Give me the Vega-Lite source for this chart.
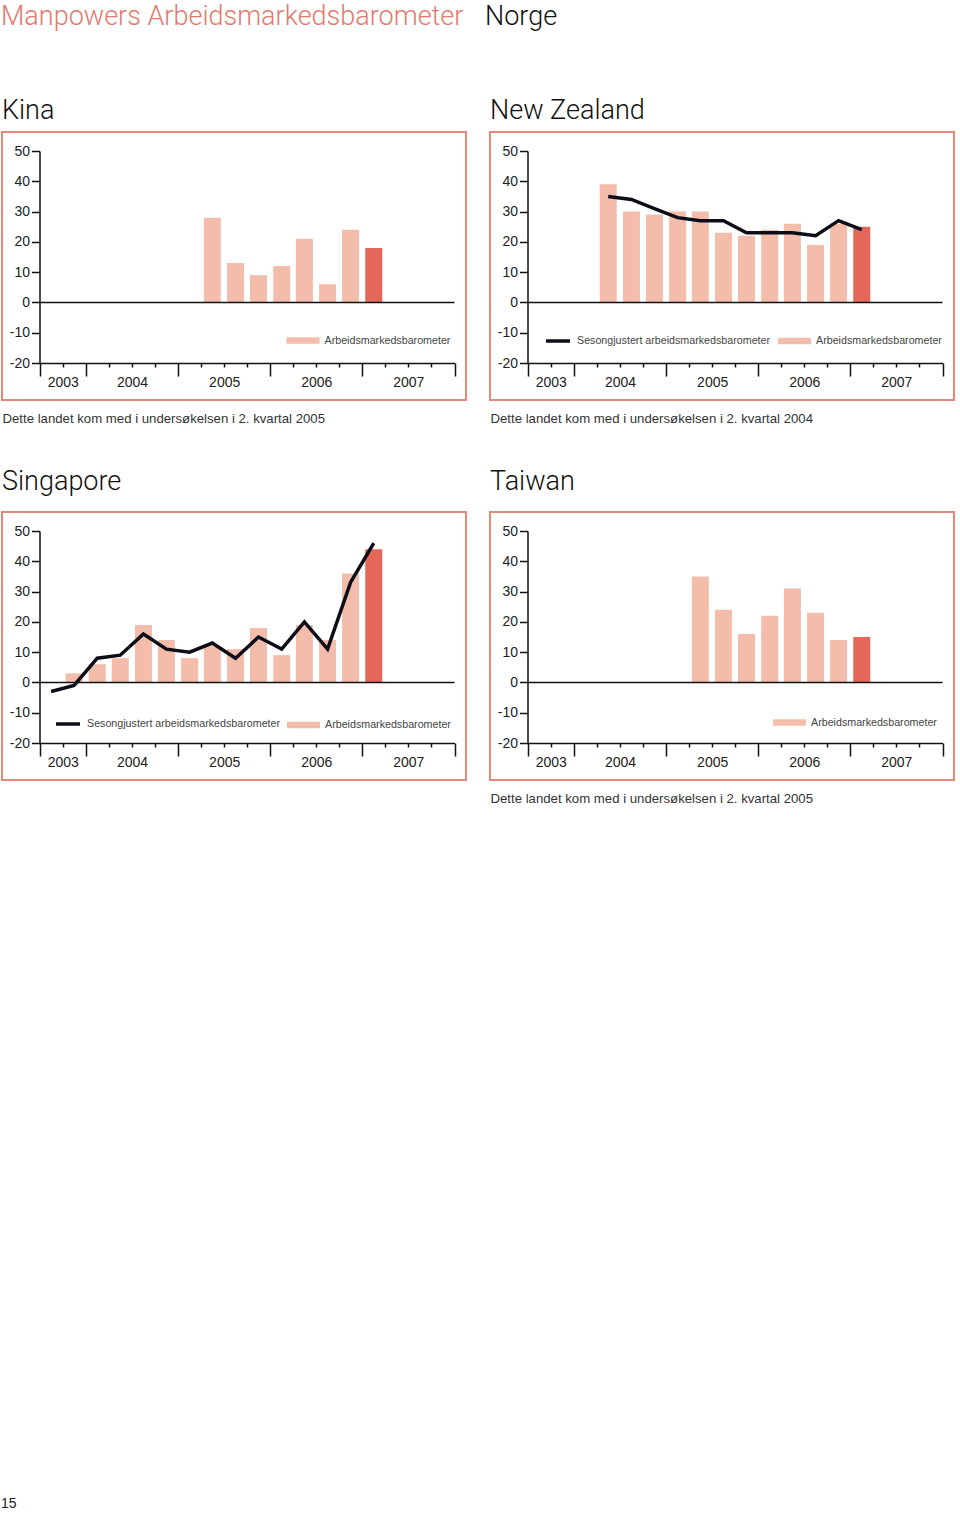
{
  "$schema": "https://vega.github.io/schema/vega-lite/v6.json",
  "background": "white",
  "padding": {"left": 1, "top": 3, "right": 0, "bottom": 0},
  "datasets": {
    "kina": [
      {"kvartal": "2005-05-16", "verdi": 28, "serie": "Arbeidsmarkedsbarometer"},
      {"kvartal": "2005-08-16", "verdi": 13, "serie": "Arbeidsmarkedsbarometer"},
      {"kvartal": "2005-11-15", "verdi": 9, "serie": "Arbeidsmarkedsbarometer"},
      {"kvartal": "2006-02-15", "verdi": 12, "serie": "Arbeidsmarkedsbarometer"},
      {"kvartal": "2006-05-16", "verdi": 21, "serie": "Arbeidsmarkedsbarometer"},
      {"kvartal": "2006-08-16", "verdi": 6, "serie": "Arbeidsmarkedsbarometer"},
      {"kvartal": "2006-11-15", "verdi": 24, "serie": "Arbeidsmarkedsbarometer"},
      {"kvartal": "2007-02-15", "verdi": 18, "serie": "Siste kvartal"}
    ],
    "nz_stolper": [
      {"kvartal": "2004-05-16", "verdi": 39, "serie": "Arbeidsmarkedsbarometer"},
      {"kvartal": "2004-08-16", "verdi": 30, "serie": "Arbeidsmarkedsbarometer"},
      {"kvartal": "2004-11-15", "verdi": 29, "serie": "Arbeidsmarkedsbarometer"},
      {"kvartal": "2005-02-15", "verdi": 30, "serie": "Arbeidsmarkedsbarometer"},
      {"kvartal": "2005-05-16", "verdi": 30, "serie": "Arbeidsmarkedsbarometer"},
      {"kvartal": "2005-08-16", "verdi": 23, "serie": "Arbeidsmarkedsbarometer"},
      {"kvartal": "2005-11-15", "verdi": 22, "serie": "Arbeidsmarkedsbarometer"},
      {"kvartal": "2006-02-15", "verdi": 24, "serie": "Arbeidsmarkedsbarometer"},
      {"kvartal": "2006-05-16", "verdi": 26, "serie": "Arbeidsmarkedsbarometer"},
      {"kvartal": "2006-08-16", "verdi": 19, "serie": "Arbeidsmarkedsbarometer"},
      {"kvartal": "2006-11-15", "verdi": 26, "serie": "Arbeidsmarkedsbarometer"},
      {"kvartal": "2007-02-15", "verdi": 25, "serie": "Siste kvartal"}
    ],
    "nz_linje": [
      {"kvartal": "2004-05-16", "verdi": 35, "serie": "Sesongjustert arbeidsmarkedsbarometer"},
      {"kvartal": "2004-08-16", "verdi": 34, "serie": "Sesongjustert arbeidsmarkedsbarometer"},
      {"kvartal": "2004-11-15", "verdi": 31, "serie": "Sesongjustert arbeidsmarkedsbarometer"},
      {"kvartal": "2005-02-15", "verdi": 28, "serie": "Sesongjustert arbeidsmarkedsbarometer"},
      {"kvartal": "2005-05-16", "verdi": 27, "serie": "Sesongjustert arbeidsmarkedsbarometer"},
      {"kvartal": "2005-08-16", "verdi": 27, "serie": "Sesongjustert arbeidsmarkedsbarometer"},
      {"kvartal": "2005-11-15", "verdi": 23, "serie": "Sesongjustert arbeidsmarkedsbarometer"},
      {"kvartal": "2006-02-15", "verdi": 23, "serie": "Sesongjustert arbeidsmarkedsbarometer"},
      {"kvartal": "2006-05-16", "verdi": 23, "serie": "Sesongjustert arbeidsmarkedsbarometer"},
      {"kvartal": "2006-08-16", "verdi": 22, "serie": "Sesongjustert arbeidsmarkedsbarometer"},
      {"kvartal": "2006-11-15", "verdi": 27, "serie": "Sesongjustert arbeidsmarkedsbarometer"},
      {"kvartal": "2007-02-15", "verdi": 24, "serie": "Sesongjustert arbeidsmarkedsbarometer"}
    ],
    "sg_stolper": [
      {"kvartal": "2003-11-15", "verdi": 3, "serie": "Arbeidsmarkedsbarometer"},
      {"kvartal": "2004-02-15", "verdi": 6, "serie": "Arbeidsmarkedsbarometer"},
      {"kvartal": "2004-05-16", "verdi": 8, "serie": "Arbeidsmarkedsbarometer"},
      {"kvartal": "2004-08-16", "verdi": 19, "serie": "Arbeidsmarkedsbarometer"},
      {"kvartal": "2004-11-15", "verdi": 14, "serie": "Arbeidsmarkedsbarometer"},
      {"kvartal": "2005-02-15", "verdi": 8, "serie": "Arbeidsmarkedsbarometer"},
      {"kvartal": "2005-05-16", "verdi": 12, "serie": "Arbeidsmarkedsbarometer"},
      {"kvartal": "2005-08-16", "verdi": 11, "serie": "Arbeidsmarkedsbarometer"},
      {"kvartal": "2005-11-15", "verdi": 18, "serie": "Arbeidsmarkedsbarometer"},
      {"kvartal": "2006-02-15", "verdi": 9, "serie": "Arbeidsmarkedsbarometer"},
      {"kvartal": "2006-05-16", "verdi": 19, "serie": "Arbeidsmarkedsbarometer"},
      {"kvartal": "2006-08-16", "verdi": 14, "serie": "Arbeidsmarkedsbarometer"},
      {"kvartal": "2006-11-15", "verdi": 36, "serie": "Arbeidsmarkedsbarometer"},
      {"kvartal": "2007-02-15", "verdi": 44, "serie": "Siste kvartal"}
    ],
    "sg_linje": [
      {"kvartal": "2003-08-16", "verdi": -3, "serie": "Sesongjustert arbeidsmarkedsbarometer"},
      {"kvartal": "2003-11-15", "verdi": -1, "serie": "Sesongjustert arbeidsmarkedsbarometer"},
      {"kvartal": "2004-02-15", "verdi": 8, "serie": "Sesongjustert arbeidsmarkedsbarometer"},
      {"kvartal": "2004-05-16", "verdi": 9, "serie": "Sesongjustert arbeidsmarkedsbarometer"},
      {"kvartal": "2004-08-16", "verdi": 16, "serie": "Sesongjustert arbeidsmarkedsbarometer"},
      {"kvartal": "2004-11-15", "verdi": 11, "serie": "Sesongjustert arbeidsmarkedsbarometer"},
      {"kvartal": "2005-02-15", "verdi": 10, "serie": "Sesongjustert arbeidsmarkedsbarometer"},
      {"kvartal": "2005-05-16", "verdi": 13, "serie": "Sesongjustert arbeidsmarkedsbarometer"},
      {"kvartal": "2005-08-16", "verdi": 8, "serie": "Sesongjustert arbeidsmarkedsbarometer"},
      {"kvartal": "2005-11-15", "verdi": 15, "serie": "Sesongjustert arbeidsmarkedsbarometer"},
      {"kvartal": "2006-02-15", "verdi": 11, "serie": "Sesongjustert arbeidsmarkedsbarometer"},
      {"kvartal": "2006-05-16", "verdi": 20, "serie": "Sesongjustert arbeidsmarkedsbarometer"},
      {"kvartal": "2006-08-16", "verdi": 11, "serie": "Sesongjustert arbeidsmarkedsbarometer"},
      {"kvartal": "2006-11-15", "verdi": 33, "serie": "Sesongjustert arbeidsmarkedsbarometer"},
      {"kvartal": "2007-02-15", "verdi": 46, "serie": "Sesongjustert arbeidsmarkedsbarometer"}
    ],
    "taiwan": [
      {"kvartal": "2005-05-16", "verdi": 35, "serie": "Arbeidsmarkedsbarometer"},
      {"kvartal": "2005-08-16", "verdi": 24, "serie": "Arbeidsmarkedsbarometer"},
      {"kvartal": "2005-11-15", "verdi": 16, "serie": "Arbeidsmarkedsbarometer"},
      {"kvartal": "2006-02-15", "verdi": 22, "serie": "Arbeidsmarkedsbarometer"},
      {"kvartal": "2006-05-16", "verdi": 31, "serie": "Arbeidsmarkedsbarometer"},
      {"kvartal": "2006-08-16", "verdi": 23, "serie": "Arbeidsmarkedsbarometer"},
      {"kvartal": "2006-11-15", "verdi": 14, "serie": "Arbeidsmarkedsbarometer"},
      {"kvartal": "2007-02-15", "verdi": 15, "serie": "Siste kvartal"}
    ],
    "nullinje": [
      {"fra": "2003-07-01", "til": "2008-01-01", "verdi": 0}
    ]
  },
  "title": {"text": "15", "orient": "bottom", "anchor": "start", "font": "Liberation Sans", "fontWeight": "normal", "fontSize": 14, "color": "#222", "offset": 703, "baseline": "alphabetic"},
  "spacing": 18,
  "resolve": {"scale": {"fill": "independent", "stroke": "independent"}},
  "hconcat": [
    {
      "title": {"text": "Manpowers Arbeidsmarkedsbarometer", "color": "#e27a6e", "offset": 65},
      "spacing": 40,
      "resolve": {"scale": {"fill": "independent", "stroke": "independent"}},
      "vconcat": [
        {
          "width": 464, "height": 268,
          "title": {"text": "Kina", "offset": 7},
          "layer": [
            {
              "data": {"name": "kina"},
              "mark": {"type": "bar", "width": 17},
              "encoding": {
                "x": {"field": "kvartal", "type": "temporal",
                  "scale": {"type": "utc", "nice": false, "padding": 0, "domain": [{"year": 2003, "month": 7, "date": 1, "utc": true}, {"year": 2008, "month": 1, "date": 1, "utc": true}], "range": [37.5, 452.5]},
                  "axis": {"orient": "bottom", "offset": -37, "labels": false, "title": null, "domain": true,
                    "values": [{"year": 2003, "month": 7, "date": 1, "utc": true}, {"year": 2003, "month": 10, "date": 1, "utc": true}, {"year": 2004, "month": 1, "date": 1, "utc": true}, {"year": 2004, "month": 4, "date": 1, "utc": true}, {"year": 2004, "month": 7, "date": 1, "utc": true}, {"year": 2004, "month": 10, "date": 1, "utc": true}, {"year": 2005, "month": 1, "date": 1, "utc": true}, {"year": 2005, "month": 4, "date": 1, "utc": true}, {"year": 2005, "month": 7, "date": 1, "utc": true}, {"year": 2005, "month": 10, "date": 1, "utc": true}, {"year": 2006, "month": 1, "date": 1, "utc": true}, {"year": 2006, "month": 4, "date": 1, "utc": true}, {"year": 2006, "month": 7, "date": 1, "utc": true}, {"year": 2006, "month": 10, "date": 1, "utc": true}, {"year": 2007, "month": 1, "date": 1, "utc": true}, {"year": 2007, "month": 4, "date": 1, "utc": true}, {"year": 2007, "month": 7, "date": 1, "utc": true}, {"year": 2007, "month": 10, "date": 1, "utc": true}, {"year": 2008, "month": 1, "date": 1, "utc": true}],
                    "tickSize": {"condition": {"test": "utcmonth(datum.value) == 0 || (utcyear(datum.value) == 2003 && utcmonth(datum.value) == 6)", "value": 13}, "value": 4}}},
                "y": {"field": "verdi", "type": "quantitative",
                  "scale": {"domain": [-20, 50], "range": [231, 19], "nice": false, "zero": false, "padding": 0},
                  "axis": {"orient": "left", "offset": -37.5, "values": [-20, -10, 0, 10, 20, 30, 40, 50], "labelExpr": "datum.value < 0 ? '-' + abs(datum.value) : '' + datum.value", "tickSize": 8, "labelPadding": 2, "title": null}},
                "fill": {"field": "serie", "type": "nominal",
                  "scale": {"domain": ["Arbeidsmarkedsbarometer", "Siste kvartal"], "range": ["#f4bcaa", "#e4685a"]},
                  "legend": {"values": ["Arbeidsmarkedsbarometer"], "orient": "none", "legendX": 284.5, "legendY": 192}}
              }
            },
            {
              "data": {"name": "nullinje"},
              "mark": {"type": "rule", "color": "#111", "strokeWidth": 1.5},
              "encoding": {
                "x": {"field": "fra", "type": "temporal",
                  "axis": {"orient": "bottom", "offset": -37, "domain": false, "ticks": false, "tickSize": 0, "labelPadding": 12, "format": "%Y",
                    "values": [{"year": 2003, "month": 10, "date": 1, "utc": true}, {"year": 2004, "month": 7, "date": 2, "utc": true}, {"year": 2005, "month": 7, "date": 2, "utc": true}, {"year": 2006, "month": 7, "date": 2, "utc": true}, {"year": 2007, "month": 7, "date": 2, "utc": true}],
                    "title": "Dette landet kom med i undersøkelsen i 2. kvartal 2005", "titleX": 0, "titleY": 59, "titleAnchor": "start", "titleAlign": "left", "titleBaseline": "alphabetic"}},
                "x2": {"field": "til"},
                "y": {"field": "verdi", "type": "quantitative", "axis": null}
              }
            }
          ],
          "resolve": {"axis": {"x": "independent", "y": "independent"}}
        },
        {
          "width": 464, "height": 268,
          "title": {"text": "Singapore", "offset": 16.5},
          "layer": [
            {
              "data": {"name": "sg_stolper"},
              "mark": {"type": "bar", "width": 17},
              "encoding": {
                "x": {"field": "kvartal", "type": "temporal",
                  "scale": {"type": "utc", "nice": false, "padding": 0, "domain": [{"year": 2003, "month": 7, "date": 1, "utc": true}, {"year": 2008, "month": 1, "date": 1, "utc": true}], "range": [37.5, 452.5]},
                  "axis": {"orient": "bottom", "offset": -37, "labels": false, "title": null, "domain": true,
                    "values": [{"year": 2003, "month": 7, "date": 1, "utc": true}, {"year": 2003, "month": 10, "date": 1, "utc": true}, {"year": 2004, "month": 1, "date": 1, "utc": true}, {"year": 2004, "month": 4, "date": 1, "utc": true}, {"year": 2004, "month": 7, "date": 1, "utc": true}, {"year": 2004, "month": 10, "date": 1, "utc": true}, {"year": 2005, "month": 1, "date": 1, "utc": true}, {"year": 2005, "month": 4, "date": 1, "utc": true}, {"year": 2005, "month": 7, "date": 1, "utc": true}, {"year": 2005, "month": 10, "date": 1, "utc": true}, {"year": 2006, "month": 1, "date": 1, "utc": true}, {"year": 2006, "month": 4, "date": 1, "utc": true}, {"year": 2006, "month": 7, "date": 1, "utc": true}, {"year": 2006, "month": 10, "date": 1, "utc": true}, {"year": 2007, "month": 1, "date": 1, "utc": true}, {"year": 2007, "month": 4, "date": 1, "utc": true}, {"year": 2007, "month": 7, "date": 1, "utc": true}, {"year": 2007, "month": 10, "date": 1, "utc": true}, {"year": 2008, "month": 1, "date": 1, "utc": true}],
                    "tickSize": {"condition": {"test": "utcmonth(datum.value) == 0 || (utcyear(datum.value) == 2003 && utcmonth(datum.value) == 6)", "value": 13}, "value": 4}}},
                "y": {"field": "verdi", "type": "quantitative",
                  "scale": {"domain": [-20, 50], "range": [231, 19], "nice": false, "zero": false, "padding": 0},
                  "axis": {"orient": "left", "offset": -37.5, "values": [-20, -10, 0, 10, 20, 30, 40, 50], "labelExpr": "datum.value < 0 ? '-' + abs(datum.value) : '' + datum.value", "tickSize": 8, "labelPadding": 2, "title": null}},
                "fill": {"field": "serie", "type": "nominal",
                  "scale": {"domain": ["Arbeidsmarkedsbarometer", "Siste kvartal"], "range": ["#f4bcaa", "#e4685a"]},
                  "legend": {"values": ["Arbeidsmarkedsbarometer"], "orient": "none", "legendX": 285, "legendY": 196.5}}
              }
            },
            {
              "data": {"name": "sg_linje"},
              "mark": {"type": "line", "strokeWidth": 3.5, "strokeJoin": "miter"},
              "encoding": {
                "x": {"field": "kvartal", "type": "temporal", "axis": null},
                "y": {"field": "verdi", "type": "quantitative", "axis": null},
                "stroke": {"field": "serie", "type": "nominal",
                  "scale": {"domain": ["Sesongjustert arbeidsmarkedsbarometer"], "range": ["#0d0d18"]},
                  "legend": {"orient": "none", "legendX": 52, "legendY": 198, "symbolType": "stroke", "symbolSize": 576, "symbolStrokeWidth": 3.5}}
              }
            },
            {
              "data": {"name": "nullinje"},
              "mark": {"type": "rule", "color": "#111", "strokeWidth": 1.5},
              "encoding": {
                "x": {"field": "fra", "type": "temporal",
                  "axis": {"orient": "bottom", "offset": -37, "domain": false, "ticks": false, "tickSize": 0, "labelPadding": 12, "format": "%Y", "title": null,
                    "values": [{"year": 2003, "month": 10, "date": 1, "utc": true}, {"year": 2004, "month": 7, "date": 2, "utc": true}, {"year": 2005, "month": 7, "date": 2, "utc": true}, {"year": 2006, "month": 7, "date": 2, "utc": true}, {"year": 2007, "month": 7, "date": 2, "utc": true}]}},
                "x2": {"field": "til"},
                "y": {"field": "verdi", "type": "quantitative", "axis": null}
              }
            }
          ],
          "resolve": {"axis": {"x": "independent", "y": "independent"}}
        }
      ]
    },
    {
      "title": {"text": "Norge", "offset": 65, "dx": -4},
      "spacing": 40,
      "resolve": {"scale": {"fill": "independent", "stroke": "independent"}},
      "vconcat": [
        {
          "width": 464, "height": 268,
          "title": {"text": "New Zealand", "offset": 7},
          "layer": [
            {
              "data": {"name": "nz_stolper"},
              "mark": {"type": "bar", "width": 17},
              "encoding": {
                "x": {"field": "kvartal", "type": "temporal",
                  "scale": {"type": "utc", "nice": false, "padding": 0, "domain": [{"year": 2003, "month": 7, "date": 1, "utc": true}, {"year": 2008, "month": 1, "date": 1, "utc": true}], "range": [37.5, 452.5]},
                  "axis": {"orient": "bottom", "offset": -37, "labels": false, "title": null, "domain": true,
                    "values": [{"year": 2003, "month": 7, "date": 1, "utc": true}, {"year": 2003, "month": 10, "date": 1, "utc": true}, {"year": 2004, "month": 1, "date": 1, "utc": true}, {"year": 2004, "month": 4, "date": 1, "utc": true}, {"year": 2004, "month": 7, "date": 1, "utc": true}, {"year": 2004, "month": 10, "date": 1, "utc": true}, {"year": 2005, "month": 1, "date": 1, "utc": true}, {"year": 2005, "month": 4, "date": 1, "utc": true}, {"year": 2005, "month": 7, "date": 1, "utc": true}, {"year": 2005, "month": 10, "date": 1, "utc": true}, {"year": 2006, "month": 1, "date": 1, "utc": true}, {"year": 2006, "month": 4, "date": 1, "utc": true}, {"year": 2006, "month": 7, "date": 1, "utc": true}, {"year": 2006, "month": 10, "date": 1, "utc": true}, {"year": 2007, "month": 1, "date": 1, "utc": true}, {"year": 2007, "month": 4, "date": 1, "utc": true}, {"year": 2007, "month": 7, "date": 1, "utc": true}, {"year": 2007, "month": 10, "date": 1, "utc": true}, {"year": 2008, "month": 1, "date": 1, "utc": true}],
                    "tickSize": {"condition": {"test": "utcmonth(datum.value) == 0 || (utcyear(datum.value) == 2003 && utcmonth(datum.value) == 6)", "value": 13}, "value": 4}}},
                "y": {"field": "verdi", "type": "quantitative",
                  "scale": {"domain": [-20, 50], "range": [231, 19], "nice": false, "zero": false, "padding": 0},
                  "axis": {"orient": "left", "offset": -37.5, "values": [-20, -10, 0, 10, 20, 30, 40, 50], "labelExpr": "datum.value < 0 ? '-' + abs(datum.value) : '' + datum.value", "tickSize": 8, "labelPadding": 2, "title": null}},
                "fill": {"field": "serie", "type": "nominal",
                  "scale": {"domain": ["Arbeidsmarkedsbarometer", "Siste kvartal"], "range": ["#f4bcaa", "#e4685a"]},
                  "legend": {"values": ["Arbeidsmarkedsbarometer"], "orient": "none", "legendX": 288, "legendY": 192.5}}
              }
            },
            {
              "data": {"name": "nz_linje"},
              "mark": {"type": "line", "strokeWidth": 3.5, "strokeJoin": "miter"},
              "encoding": {
                "x": {"field": "kvartal", "type": "temporal", "axis": null},
                "y": {"field": "verdi", "type": "quantitative", "axis": null},
                "stroke": {"field": "serie", "type": "nominal",
                  "scale": {"domain": ["Sesongjustert arbeidsmarkedsbarometer"], "range": ["#0d0d18"]},
                  "legend": {"orient": "none", "legendX": 54, "legendY": 195, "symbolType": "stroke", "symbolSize": 576, "symbolStrokeWidth": 3.5}}
              }
            },
            {
              "data": {"name": "nullinje"},
              "mark": {"type": "rule", "color": "#111", "strokeWidth": 1.5},
              "encoding": {
                "x": {"field": "fra", "type": "temporal",
                  "axis": {"orient": "bottom", "offset": -37, "domain": false, "ticks": false, "tickSize": 0, "labelPadding": 12, "format": "%Y",
                    "values": [{"year": 2003, "month": 10, "date": 1, "utc": true}, {"year": 2004, "month": 7, "date": 2, "utc": true}, {"year": 2005, "month": 7, "date": 2, "utc": true}, {"year": 2006, "month": 7, "date": 2, "utc": true}, {"year": 2007, "month": 7, "date": 2, "utc": true}],
                    "title": "Dette landet kom med i undersøkelsen i 2. kvartal 2004", "titleX": 0, "titleY": 59, "titleAnchor": "start", "titleAlign": "left", "titleBaseline": "alphabetic"}},
                "x2": {"field": "til"},
                "y": {"field": "verdi", "type": "quantitative", "axis": null}
              }
            }
          ],
          "resolve": {"axis": {"x": "independent", "y": "independent"}}
        },
        {
          "width": 464, "height": 268,
          "title": {"text": "Taiwan", "offset": 16.5},
          "layer": [
            {
              "data": {"name": "taiwan"},
              "mark": {"type": "bar", "width": 17},
              "encoding": {
                "x": {"field": "kvartal", "type": "temporal",
                  "scale": {"type": "utc", "nice": false, "padding": 0, "domain": [{"year": 2003, "month": 7, "date": 1, "utc": true}, {"year": 2008, "month": 1, "date": 1, "utc": true}], "range": [37.5, 452.5]},
                  "axis": {"orient": "bottom", "offset": -37, "labels": false, "title": null, "domain": true,
                    "values": [{"year": 2003, "month": 7, "date": 1, "utc": true}, {"year": 2003, "month": 10, "date": 1, "utc": true}, {"year": 2004, "month": 1, "date": 1, "utc": true}, {"year": 2004, "month": 4, "date": 1, "utc": true}, {"year": 2004, "month": 7, "date": 1, "utc": true}, {"year": 2004, "month": 10, "date": 1, "utc": true}, {"year": 2005, "month": 1, "date": 1, "utc": true}, {"year": 2005, "month": 4, "date": 1, "utc": true}, {"year": 2005, "month": 7, "date": 1, "utc": true}, {"year": 2005, "month": 10, "date": 1, "utc": true}, {"year": 2006, "month": 1, "date": 1, "utc": true}, {"year": 2006, "month": 4, "date": 1, "utc": true}, {"year": 2006, "month": 7, "date": 1, "utc": true}, {"year": 2006, "month": 10, "date": 1, "utc": true}, {"year": 2007, "month": 1, "date": 1, "utc": true}, {"year": 2007, "month": 4, "date": 1, "utc": true}, {"year": 2007, "month": 7, "date": 1, "utc": true}, {"year": 2007, "month": 10, "date": 1, "utc": true}, {"year": 2008, "month": 1, "date": 1, "utc": true}],
                    "tickSize": {"condition": {"test": "utcmonth(datum.value) == 0 || (utcyear(datum.value) == 2003 && utcmonth(datum.value) == 6)", "value": 13}, "value": 4}}},
                "y": {"field": "verdi", "type": "quantitative",
                  "scale": {"domain": [-20, 50], "range": [231, 19], "nice": false, "zero": false, "padding": 0},
                  "axis": {"orient": "left", "offset": -37.5, "values": [-20, -10, 0, 10, 20, 30, 40, 50], "labelExpr": "datum.value < 0 ? '-' + abs(datum.value) : '' + datum.value", "tickSize": 8, "labelPadding": 2, "title": null}},
                "fill": {"field": "serie", "type": "nominal",
                  "scale": {"domain": ["Arbeidsmarkedsbarometer", "Siste kvartal"], "range": ["#f4bcaa", "#e4685a"]},
                  "legend": {"values": ["Arbeidsmarkedsbarometer"], "orient": "none", "legendX": 283, "legendY": 194}}
              }
            },
            {
              "data": {"name": "nullinje"},
              "mark": {"type": "rule", "color": "#111", "strokeWidth": 1.5},
              "encoding": {
                "x": {"field": "fra", "type": "temporal",
                  "axis": {"orient": "bottom", "offset": -37, "domain": false, "ticks": false, "tickSize": 0, "labelPadding": 12, "format": "%Y",
                    "values": [{"year": 2003, "month": 10, "date": 1, "utc": true}, {"year": 2004, "month": 7, "date": 2, "utc": true}, {"year": 2005, "month": 7, "date": 2, "utc": true}, {"year": 2006, "month": 7, "date": 2, "utc": true}, {"year": 2007, "month": 7, "date": 2, "utc": true}],
                    "title": "Dette landet kom med i undersøkelsen i 2. kvartal 2005", "titleX": 0, "titleY": 59, "titleAnchor": "start", "titleAlign": "left", "titleBaseline": "alphabetic"}},
                "x2": {"field": "til"},
                "y": {"field": "verdi", "type": "quantitative", "axis": null}
              }
            }
          ],
          "resolve": {"axis": {"x": "independent", "y": "independent"}}
        }
      ]
    }
  ],
  "config": {
    "font": "Liberation Sans",
    "view": {"stroke": "#e8887d", "strokeWidth": 2},
    "axis": {"domainColor": "#111", "domainWidth": 1.5, "tickColor": "#111", "tickWidth": 1.5, "labelFont": "Liberation Sans", "labelFontSize": 14, "labelColor": "#222", "grid": false, "titleFont": "Liberation Sans", "titleFontSize": 13.2, "titleFontWeight": "normal", "titleColor": "#333"},
    "legend": {"title": null, "padding": 0, "labelFont": "Liberation Sans", "labelFontSize": 10.7, "labelColor": "#444", "labelOffset": 5, "labelLimit": 400, "symbolType": "M-1,-0.2H1V0.2H-1Z", "symbolSize": 1089, "symbolStrokeWidth": 0, "symbolOpacity": 1},
    "title": {"anchor": "start", "font": "Roboto", "fontWeight": 300, "fontSize": 27, "color": "#111", "baseline": "alphabetic"}
  }
}
